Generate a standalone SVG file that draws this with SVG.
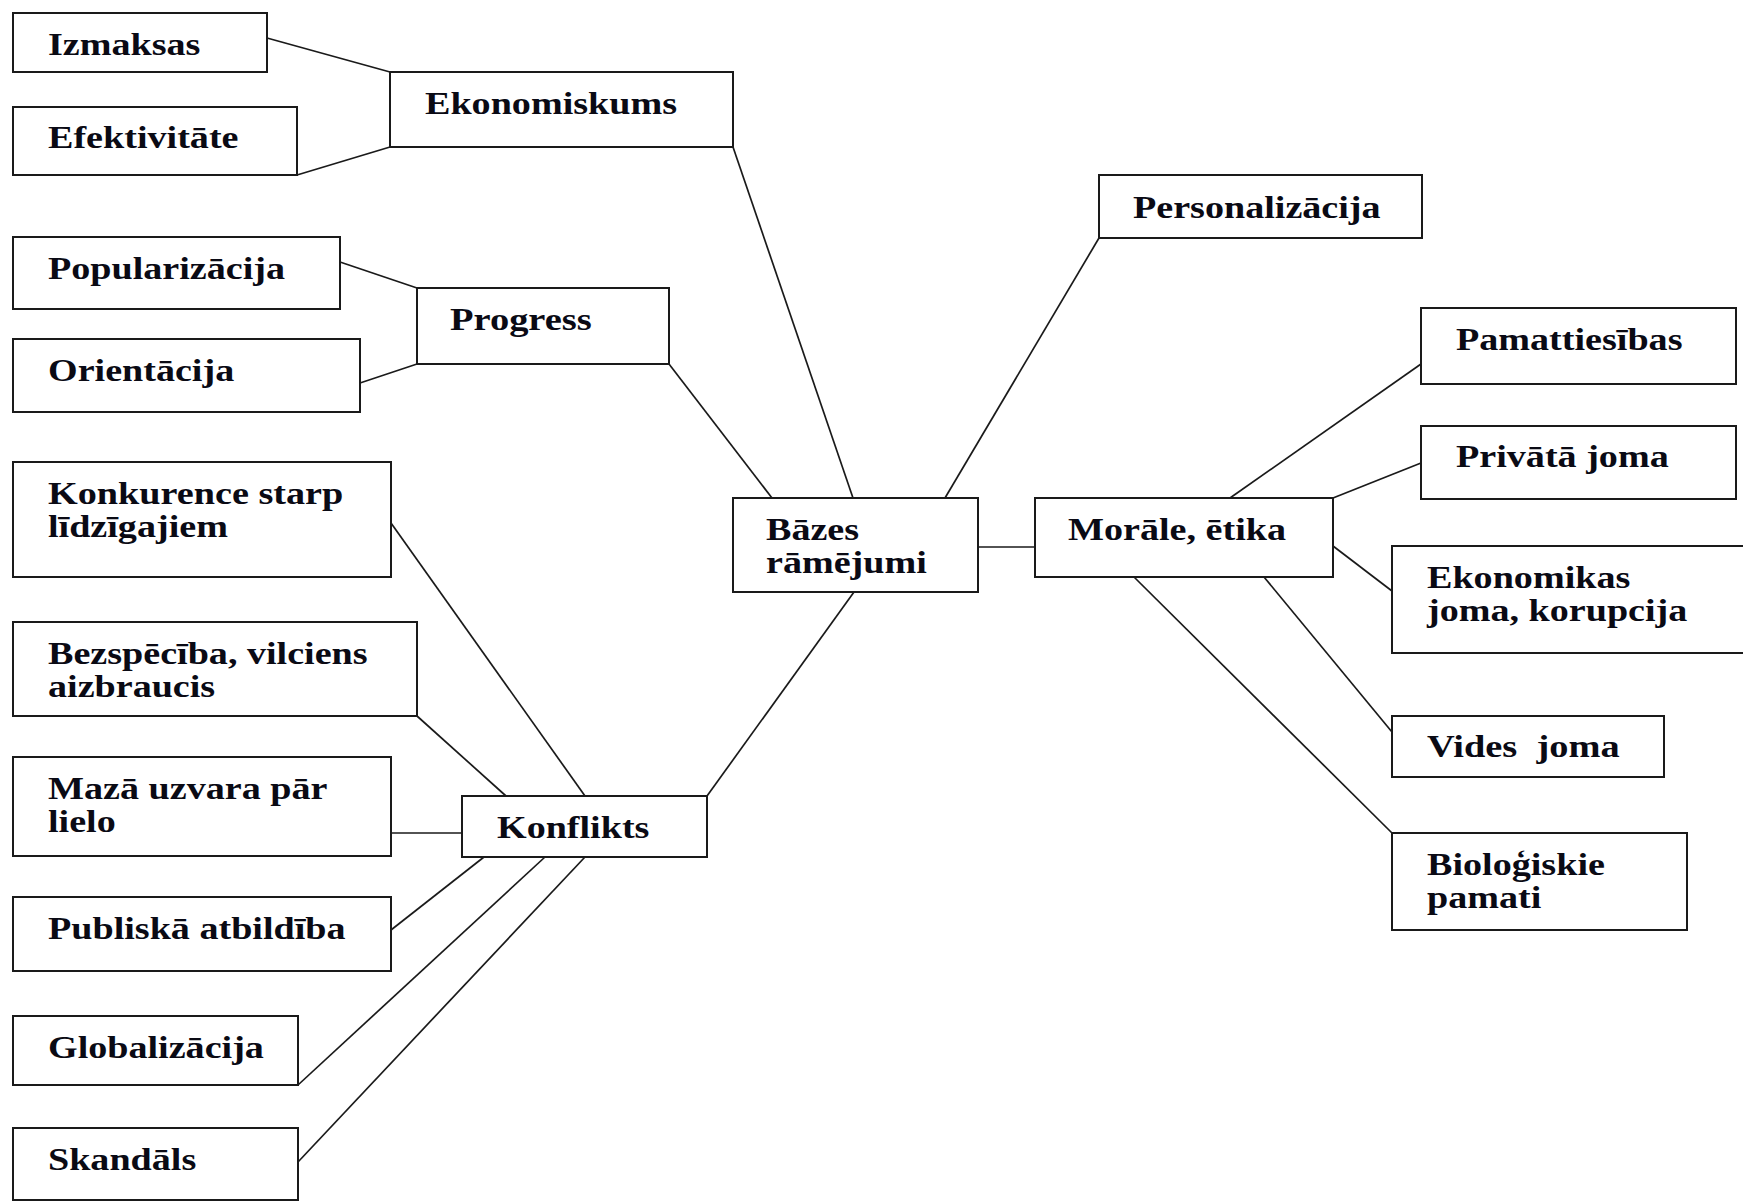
<svg xmlns="http://www.w3.org/2000/svg" width="1743" height="1202" viewBox="0 0 1743 1202">
<style>
rect{fill:#fff;stroke:#1a1a1a;stroke-width:2}
line{stroke:#1a1a1a;stroke-width:1.7}
text{font-family:"Liberation Serif","Times New Roman",serif;font-weight:bold;font-size:31px;fill:#0a0a14}
</style>
<rect x="0" y="0" width="1743" height="1202" style="stroke:none"/>
<g id="connectors">
<line x1="267" y1="38" x2="390" y2="72"/>
<line x1="297" y1="175" x2="390" y2="147"/>
<line x1="340" y1="262" x2="417" y2="288"/>
<line x1="360" y1="383" x2="417" y2="364"/>
<line x1="733" y1="147" x2="853" y2="498"/>
<line x1="669" y1="364" x2="772" y2="498"/>
<line x1="1099" y1="238" x2="945" y2="498"/>
<line x1="978" y1="547" x2="1035" y2="547"/>
<line x1="854" y1="592" x2="707" y2="796"/>
<line x1="391" y1="523" x2="585" y2="796"/>
<line x1="417" y1="716" x2="506" y2="796"/>
<line x1="391" y1="833" x2="462" y2="833"/>
<line x1="391" y1="930" x2="484" y2="857"/>
<line x1="298" y1="1085" x2="545" y2="857"/>
<line x1="298" y1="1162" x2="585" y2="857"/>
<line x1="1230" y1="498" x2="1421" y2="364"/>
<line x1="1333" y1="498" x2="1421" y2="463"/>
<line x1="1333" y1="546" x2="1392" y2="591"/>
<line x1="1264" y1="577" x2="1392" y2="732"/>
<line x1="1134" y1="577" x2="1392" y2="833"/>
</g>
<g id="izmaksas"><rect x="13" y="13" width="254" height="59"/><text x="48" y="55" textLength="152.4" lengthAdjust="spacingAndGlyphs">Izmaksas</text></g>
<g id="efektivitate"><rect x="13" y="107" width="284" height="68"/><text x="48" y="148" textLength="190.5" lengthAdjust="spacingAndGlyphs">Efektivitāte</text></g>
<g id="ekonomiskums"><rect x="390" y="72" width="343" height="75"/><text x="425" y="114" textLength="252" lengthAdjust="spacingAndGlyphs">Ekonomiskums</text></g>
<g id="popularizacija"><rect x="13" y="237" width="327" height="72"/><text x="48" y="279" textLength="237.1" lengthAdjust="spacingAndGlyphs">Popularizācija</text></g>
<g id="orientacija"><rect x="13" y="339" width="347" height="73"/><text x="48" y="381" textLength="186.2" lengthAdjust="spacingAndGlyphs">Orientācija</text></g>
<g id="progress"><rect x="417" y="288" width="252" height="76"/><text x="450" y="330" textLength="141.8" lengthAdjust="spacingAndGlyphs">Progress</text></g>
<g id="konkurence"><rect x="13" y="462" width="378" height="115"/><text x="48" y="504" textLength="295.3" lengthAdjust="spacingAndGlyphs">Konkurence starp</text><text x="48" y="537" textLength="179.9" lengthAdjust="spacingAndGlyphs">līdzīgajiem</text></g>
<g id="bezspeciba"><rect x="13" y="622" width="404" height="94"/><text x="48" y="664" textLength="319.6" lengthAdjust="spacingAndGlyphs">Bezspēcība, vilciens</text><text x="48" y="697" textLength="167.2" lengthAdjust="spacingAndGlyphs">aizbraucis</text></g>
<g id="maza-uzvara"><rect x="13" y="757" width="378" height="99"/><text x="48" y="799" textLength="279.4" lengthAdjust="spacingAndGlyphs">Mazā uzvara pār</text><text x="48" y="832" textLength="67.7" lengthAdjust="spacingAndGlyphs">lielo</text></g>
<g id="publiska"><rect x="13" y="897" width="378" height="74"/><text x="48" y="939" textLength="297.5" lengthAdjust="spacingAndGlyphs">Publiskā atbildība</text></g>
<g id="globalizacija"><rect x="13" y="1016" width="285" height="69"/><text x="48" y="1058" textLength="215.9" lengthAdjust="spacingAndGlyphs">Globalizācija</text></g>
<g id="skandals"><rect x="13" y="1128" width="285" height="72"/><text x="48" y="1170" textLength="148.2" lengthAdjust="spacingAndGlyphs">Skandāls</text></g>
<g id="konflikts"><rect x="462" y="796" width="245" height="61"/><text x="497" y="838" textLength="152.4" lengthAdjust="spacingAndGlyphs">Konflikts</text></g>
<g id="bazes"><rect x="733" y="498" width="245" height="94"/><text x="766" y="540" textLength="93.1" lengthAdjust="spacingAndGlyphs">Bāzes</text><text x="766" y="573" textLength="160.8" lengthAdjust="spacingAndGlyphs">rāmējumi</text></g>
<g id="personalizacija"><rect x="1099" y="175" width="323" height="63"/><text x="1133" y="218" textLength="247.6" lengthAdjust="spacingAndGlyphs">Personalizācija</text></g>
<g id="morale"><rect x="1035" y="498" width="298" height="79"/><text x="1068" y="540" textLength="218" lengthAdjust="spacingAndGlyphs">Morāle, ētika</text></g>
<g id="pamattiesibas"><rect x="1421" y="308" width="315" height="76"/><text x="1456" y="350" textLength="226.5" lengthAdjust="spacingAndGlyphs">Pamattiesības</text></g>
<g id="privata"><rect x="1421" y="426" width="315" height="73"/><text x="1456" y="467" textLength="212.7" lengthAdjust="spacingAndGlyphs">Privātā joma</text></g>
<g id="ekonomikas"><rect x="1392" y="546" width="360" height="107"/><text x="1427" y="588" textLength="203.3" lengthAdjust="spacingAndGlyphs">Ekonomikas</text><text x="1427" y="621" textLength="260.3" lengthAdjust="spacingAndGlyphs">joma, korupcija</text></g>
<g id="vides"><rect x="1392" y="716" width="272" height="61"/><text x="1427" y="757" xml:space="preserve" textLength="192.6" lengthAdjust="spacingAndGlyphs">Vides  joma</text></g>
<g id="biologiskie"><rect x="1392" y="833" width="295" height="97"/><text x="1427" y="875" textLength="177.9" lengthAdjust="spacingAndGlyphs">Bioloģiskie</text><text x="1427" y="908" textLength="114.3" lengthAdjust="spacingAndGlyphs">pamati</text></g>
</svg>
